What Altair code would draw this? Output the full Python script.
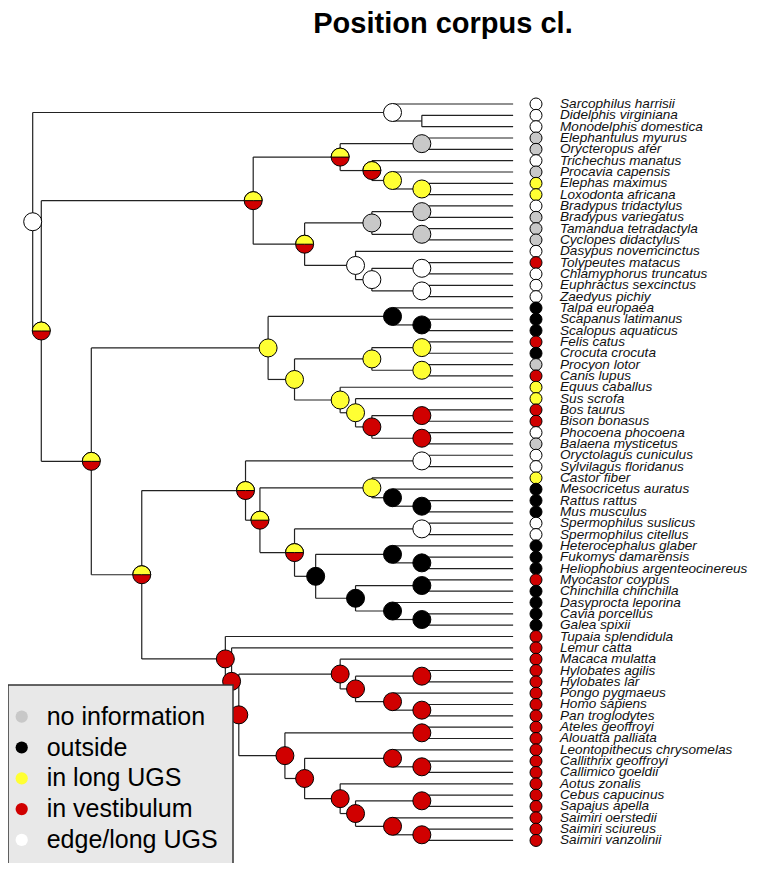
import altair as alt
import pandas as pd

# ---------------- data ----------------
species = [
    "Sarcophilus harrisii", "Didelphis virginiana", "Monodelphis domestica",
    "Elephantulus myurus", "Orycteropus afer", "Trichechus manatus", "Procavia capensis",
    "Elephas maximus", "Loxodonta africana", "Bradypus tridactylus", "Bradypus variegatus",
    "Tamandua tetradactyla", "Cyclopes didactylus", "Dasypus novemcinctus", "Tolypeutes matacus",
    "Chlamyphorus truncatus", "Euphractus sexcinctus", "Zaedyus pichiy", "Talpa europaea",
    "Scapanus latimanus", "Scalopus aquaticus", "Felis catus", "Crocuta crocuta", "Procyon lotor",
    "Canis lupus", "Equus caballus", "Sus scrofa", "Bos taurus", "Bison bonasus",
    "Phocoena phocoena", "Balaena mysticetus", "Oryctolagus cuniculus", "Sylvilagus floridanus",
    "Castor fiber", "Mesocricetus auratus", "Rattus rattus", "Mus musculus",
    "Spermophilus suslicus", "Spermophilus citellus", "Heterocephalus glaber",
    "Fukomys damarensis", "Heliophobius argenteocinereus", "Myocastor coypus",
    "Chinchilla chinchilla", "Dasyprocta leporina", "Cavia porcellus", "Galea spixii",
    "Tupaia splendidula", "Lemur catta", "Macaca mulatta", "Hylobates agilis", "Hylobates lar",
    "Pongo pygmaeus", "Homo sapiens", "Pan troglodytes", "Ateles geoffroyi", "Alouatta palliata",
    "Leontopithecus chrysomelas", "Callithrix geoffroyi", "Callimico goeldii", "Aotus zonalis",
    "Cebus capucinus", "Sapajus apella", "Saimiri oerstedii", "Saimiri sciureus",
    "Saimiri vanzolinii",
]
# W = edge/long UGS, G = no information, B = outside, Y = in long UGS, R = in vestibulum
tip_state = [
    "W", "W", "W", "G", "G", "W", "G", "Y", "Y", "W", "G", "G", "G", "W", "R", "W", "W", "W",
    "B", "B", "B", "R", "B", "G", "R", "Y", "Y", "R", "R", "W", "G", "W", "W", "Y", "B", "B",
    "B", "W", "W", "B", "B", "B", "R", "B", "B", "B", "B", "R", "R", "R", "R", "R", "R", "R",
    "R", "R", "R", "R", "R", "R", "R", "R", "R", "R", "R", "R",
]
legend_labels = ["no information", "outside", "in long UGS", "in vestibulum", "edge/long UGS"]
legend_states = ["G", "B", "Y", "R", "W"]
state_codes = ["G", "B", "Y", "R", "W"]
state_colors = ["#c8c8c8", "#000000", "#ffff33", "#d00000", "#ffffff"]


def N(depth, state, *children):
    return {"depth": depth, "state": state, "children": list(children)}


# node depth (root = 0, tips = 100) and ancestral state (YR = half yellow / half red)
marsup = N(74.9, "W", "Sarcophilus harrisii",
           N(81.0, None, "Didelphis virginiana", "Monodelphis domestica"))
afro = N(64.0, "YR",
         N(81.0, "G", "Elephantulus myurus", "Orycteropus afer"),
         N(70.6, "YR", "Trichechus manatus",
           N(74.9, "Y", "Procavia capensis",
             N(81.0, "Y", "Elephas maximus", "Loxodonta africana"))))
xen = N(56.6, "YR",
        N(70.6, "G",
          N(81.0, "G", "Bradypus tridactylus", "Bradypus variegatus"),
          N(81.0, "G", "Tamandua tetradactyla", "Cyclopes didactylus")),
        N(67.2, "W", "Dasypus novemcinctus",
          N(70.6, "W",
            N(81.0, "W", "Tolypeutes matacus", "Chlamyphorus truncatus"),
            N(81.0, "W", "Euphractus sexcinctus", "Zaedyus pichiy"))))
atlanto = N(45.9, "YR", afro, xen)

eulip = N(74.9, "B", "Talpa europaea",
          N(81.0, "B", "Scapanus latimanus", "Scalopus aquaticus"))
carn = N(70.6, "Y",
         N(81.0, "Y", "Felis catus", "Crocuta crocuta"),
         N(81.0, "Y", "Procyon lotor", "Canis lupus"))
ungul = N(64.0, "Y", "Equus caballus",
          N(67.2, "Y", "Sus scrofa",
            N(70.6, "R",
              N(81.0, "R", "Bos taurus", "Bison bonasus"),
              N(81.0, "R", "Phocoena phocoena", "Balaena mysticetus"))))
laur = N(49.0, "Y", eulip, N(54.5, "Y", carn, ungul))

muroid = N(70.6, "Y", "Castor fiber",
           N(74.9, "B", "Mesocricetus auratus",
             N(81.0, "B", "Rattus rattus", "Mus musculus")))
bathy = N(74.9, "B", "Heterocephalus glaber",
          N(81.0, "B", "Fukomys damarensis", "Heliophobius argenteocinereus"))
cavio = N(67.2, "B",
          N(81.0, "B", "Myocastor coypus", "Chinchilla chinchilla"),
          N(74.9, "B", "Dasyprocta leporina",
            N(81.0, "B", "Cavia porcellus", "Galea spixii")))
rod = N(47.3, "YR", muroid,
        N(54.5, "YR",
          N(81.0, "W", "Spermophilus suslicus", "Spermophilus citellus"),
          N(58.9, "B", bathy, cavio)))
glires = N(44.3, "YR", N(81.0, "W", "Oryctolagus cuniculus", "Sylvilagus floridanus"), rod)

catar = N(64.0, "R", "Macaca mulatta",
          N(67.2, "R",
            N(81.0, "R", "Hylobates agilis", "Hylobates lar"),
            N(74.9, "R", "Pongo pygmaeus",
              N(81.0, "R", "Homo sapiens", "Pan troglodytes"))))
cebid = N(64.0, "R", "Aotus zonalis",
          N(67.2, "R",
            N(81.0, "R", "Cebus capucinus", "Sapajus apella"),
            N(74.9, "R", "Saimiri oerstedii",
              N(81.0, "R", "Saimiri sciureus", "Saimiri vanzolinii"))))
platy = N(52.5, "R",
          N(81.0, "R", "Ateles geoffroyi", "Alouatta palliata"),
          N(56.6, "R",
            N(74.9, "R", "Leontopithecus chrysomelas",
              N(81.0, "R", "Callithrix geoffroyi", "Callimico goeldii")),
            cebid))
euarchonta = N(40.1, "R", "Tupaia splendidula",
               N(41.4, "R", "Lemur catta",
                 N(42.9, "R", catar, platy)))
euarch = N(22.7, "YR", glires, euarchonta)
boreo = N(12.2, "YR", laur, euarch)
tree = N(0.0, "W", marsup, N(1.79, "YR", atlanto, boreo))

TIP_DEPTH = 100.0

# ---------------- layout computation (ape-style phylogram) ----------------
tip_index = {s: i for i, s in enumerate(species)}
segs, nodes = [], []


def place(node):
    """returns (depth, y); y of an internal node = mean of its direct children"""
    if isinstance(node, str):
        return TIP_DEPTH, float(tip_index[node])
    kids = [place(c) for c in node["children"]]
    kys = [k[1] for k in kids]
    y = sum(kys) / len(kys)
    d = node["depth"]
    segs.append({"x": d, "x2": d, "y": min(kys), "y2": max(kys)})
    for kd, ky in kids:
        segs.append({"x": d, "x2": kd, "y": ky, "y2": ky})
    if node["state"] is not None:
        nodes.append({"x": d, "y": y, "state": node["state"]})
    return d, y


place(tree)
seg_df = pd.DataFrame(segs)
node_df = pd.DataFrame(nodes)
node_df["base"] = node_df["state"].replace({"YR": "R"})
half_df = node_df[node_df["state"] == "YR"]
tip_df = pd.DataFrame({"name": species, "state": tip_state, "i": list(range(len(species)))})

W, H = 741, 855
xs = alt.Scale(domain=[-5.14, 149.1], nice=False, zero=False)
ys = alt.Scale(domain=[-8.473, 66.99], nice=False, zero=False, reverse=True)
fill_scale = alt.Scale(domain=state_codes, range=state_colors)

rules = alt.Chart(seg_df).mark_rule(color="#222222", strokeWidth=1.2).encode(
    x=alt.X("x:Q", scale=xs, axis=None), x2="x2:Q",
    y=alt.Y("y:Q", scale=ys, axis=None), y2="y2:Q")

node_pts = alt.Chart(node_df).mark_point(
    shape="circle", filled=True, size=324, stroke="#000000", strokeWidth=1, opacity=1
).encode(
    x=alt.X("x:Q", scale=xs, axis=None), y=alt.Y("y:Q", scale=ys, axis=None),
    fill=alt.Fill("base:N", scale=fill_scale, legend=None))

half = alt.Chart(half_df).mark_arc(
    theta=4.71239, theta2=7.85398, radius=9, fill="#ffff33", stroke="#000000", strokeWidth=1
).encode(x=alt.X("x:Q", scale=xs, axis=None), y=alt.Y("y:Q", scale=ys, axis=None))

tip_pts = alt.Chart(tip_df).mark_point(
    shape="circle", filled=True, size=144, stroke="#000000", strokeWidth=1, opacity=1
).encode(
    x=alt.value(528), y=alt.Y("i:Q", scale=ys, axis=None),
    fill=alt.Fill("state:N", scale=fill_scale, legend=None))

tip_txt = alt.Chart(tip_df).mark_text(
    align="left", baseline="middle", font="Liberation Sans", fontStyle="italic",
    fontSize=13.6, color="#111111"
).encode(x=alt.value(552), y=alt.Y("i:Q", scale=ys, axis=None), text="name:N")

title = alt.Chart(pd.DataFrame({"t": ["Position corpus cl."]})).mark_text(
    align="center", baseline="alphabetic", font="Liberation Sans", fontWeight="bold",
    fontSize=29, color="#000000"
).encode(x=alt.value(435), y=alt.value(25), text="t:N")

box = alt.Chart(pd.DataFrame({"a": [0]})).mark_rect(
    fill="#e8e8e8", stroke="#333333", strokeWidth=1.5
).encode(x=alt.value(0), x2=alt.value(225), y=alt.value(677), y2=alt.value(856))

leg_layers = []
for k, (lab, st) in enumerate(zip(legend_labels, legend_states)):
    col = state_colors[state_codes.index(st)]
    yy = 708.7 + k * 30.8
    one = pd.DataFrame({"label": [lab]})
    leg_layers.append(alt.Chart(one).mark_point(
        shape="circle", filled=True, size=150, color=col, opacity=1
    ).encode(x=alt.value(13.7), y=alt.value(yy)))
    leg_layers.append(alt.Chart(one).mark_text(
        align="left", baseline="middle", font="Liberation Sans", fontSize=25, color="#000000"
    ).encode(x=alt.value(38.7), y=alt.value(yy), text="label:N"))

chart = alt.layer(rules, node_pts, half, tip_pts, tip_txt, title, box, *leg_layers).properties(
    width=W, height=H, autosize=alt.AutoSizeParams(type="none"), padding=0
).configure_view(stroke=None)

chart.save("out.html", embed_options={"renderer": "svg", "actions": False})
